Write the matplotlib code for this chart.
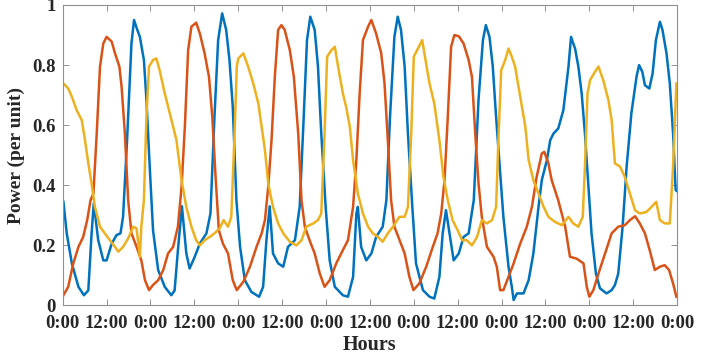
import matplotlib
matplotlib.use("Agg")
import matplotlib.pyplot as plt
import numpy as np

# --- Series: (hour, per-unit power) vertices ---
blue_h = [0.2, 1.1, 2.5, 4.3, 5.8, 7.0, 7.9, 8.5, 9.7, 11.1, 12.0, 13.4, 14.7, 15.8, 16.5, 17.6, 18.8, 19.5,
          20.4, 21.1, 22.2, 22.9, 23.8, 24.7, 26.1, 27.9, 29.7, 30.6, 31.5, 32.6, 33.8, 34.7, 36.1, 37.5,
          39.3, 40.4, 41.5, 42.5, 43.6, 44.7, 45.6, 46.5, 47.5, 48.5, 49.8, 51.6, 53.7, 54.8, 55.7, 56.6,
          57.5, 58.9, 60.3, 61.6, 63.5, 64.8, 65.7, 66.8, 67.7, 68.9, 69.8, 70.7, 71.9, 73.0, 74.4, 76.6,
          78.0, 79.4, 80.3, 80.7, 81.6, 83.0, 84.4, 85.7, 87.5, 88.5, 89.5, 90.7, 91.6, 92.5, 93.5, 94.4,
          95.6, 96.6, 98.5, 100.3, 101.6, 103.0, 103.9, 104.8, 106.9, 108.3, 109.6, 111.0, 112.4, 113.7,
          114.9, 115.7, 116.7, 117.6, 118.5, 119.5, 120.5, 121.9, 122.8, 123.3, 124.2, 126.0, 127.4, 128.7,
          130.1, 131.0, 132.4, 133.3, 134.2, 135.5, 136.9, 138.3, 139.0, 139.6, 140.1, 141.0, 141.9, 142.8,
          143.7, 144.6, 145.8, 146.9, 148.7, 150.1, 151.0, 151.9, 153.1, 154.2, 155.5, 156.9, 157.6, 158.5,
          159.2, 160.4, 161.3, 162.2, 163.3, 164.0, 165.1, 166.0, 166.9, 167.6, 168.0]
blue_v = [0.345, 0.24, 0.14, 0.062, 0.034, 0.05, 0.24, 0.34, 0.218, 0.15, 0.15, 0.206, 0.234, 0.24, 0.295,
          0.55, 0.872, 0.95, 0.917, 0.894, 0.817, 0.684, 0.46, 0.25, 0.118, 0.062, 0.034, 0.05, 0.184, 0.33,
          0.173, 0.123, 0.162, 0.206, 0.24, 0.306, 0.628, 0.883, 0.972, 0.917, 0.817, 0.661, 0.35, 0.195,
          0.084, 0.045, 0.029, 0.062, 0.217, 0.33, 0.173, 0.14, 0.129, 0.195, 0.217, 0.328, 0.572, 0.883,
          0.961, 0.917, 0.795, 0.572, 0.328, 0.15, 0.062, 0.034, 0.029, 0.095, 0.306, 0.328, 0.195, 0.15,
          0.173, 0.228, 0.262, 0.35, 0.628, 0.894, 0.961, 0.917, 0.795, 0.572, 0.328, 0.14, 0.051, 0.029,
          0.023, 0.095, 0.24, 0.317, 0.15, 0.173, 0.228, 0.24, 0.35, 0.684, 0.883, 0.933, 0.894, 0.795,
          0.628, 0.462, 0.295, 0.129, 0.062, 0.018, 0.04, 0.04, 0.084, 0.173, 0.328, 0.417, 0.484, 0.55,
          0.572, 0.589, 0.65, 0.795, 0.894, 0.872, 0.855, 0.795, 0.706, 0.572, 0.406, 0.24, 0.106, 0.057,
          0.04, 0.051, 0.068, 0.106, 0.262, 0.462, 0.64, 0.761, 0.8, 0.777, 0.733, 0.722, 0.772, 0.883,
          0.944, 0.917, 0.839, 0.739, 0.572, 0.384, 0.38]

orange_h = [0.2, 1.5, 2.9, 4.3, 5.6, 6.7, 7.6, 8.4, 9.3, 10.2, 11.1, 12.0, 13.4, 14.3, 15.5, 16.1, 17.0, 17.9,
            18.8, 20.2, 21.5, 22.5, 23.6, 24.7, 26.1, 27.5, 28.8, 30.2, 31.5, 32.5, 33.4, 34.3, 35.2, 36.5,
            37.5, 38.8, 40.0, 40.9, 41.8, 42.7, 43.8, 45.2, 46.5, 47.6, 49.4, 51.2, 53.0, 54.4, 55.3, 56.2,
            57.1, 58.0, 58.9, 59.8, 60.7, 62.1, 63.2, 64.4, 65.3, 66.2, 67.5, 68.9, 70.3, 71.6, 73.0, 74.8,
            76.6, 78.0, 79.4, 80.3, 81.2, 82.1, 83.5, 84.4, 85.7, 87.1, 88.0, 88.9, 89.8, 90.7, 92.1, 93.5,
            94.8, 95.9, 97.5, 99.4, 101.2, 102.5, 103.5, 104.4, 105.3, 106.2, 107.1, 108.3, 109.6, 111.0,
            111.9, 112.8, 113.7, 114.6, 116.0, 117.8, 118.7, 119.6, 120.5, 121.9, 123.3, 125.1, 126.9,
            128.3, 129.6, 131.0, 131.7, 132.8, 133.7, 135.5, 137.4, 138.7, 140.5, 142.4, 143.3, 144.0,
            145.1, 146.5, 148.3, 150.1, 151.9, 153.7, 155.1, 156.5, 157.8, 159.2, 160.5, 161.9, 163.3,
            164.6, 165.8, 166.9, 167.8]
orange_v = [0.034, 0.062, 0.14, 0.195, 0.228, 0.284, 0.35, 0.373, 0.572, 0.795, 0.872, 0.894, 0.878, 0.839,
            0.795, 0.728, 0.572, 0.35, 0.24, 0.195, 0.15, 0.084, 0.051, 0.068, 0.084, 0.118, 0.173, 0.195,
            0.262, 0.395, 0.595, 0.85, 0.928, 0.941, 0.905, 0.839, 0.761, 0.628, 0.428, 0.25, 0.206, 0.173,
            0.084, 0.051, 0.079, 0.129, 0.195, 0.24, 0.284, 0.395, 0.55, 0.761, 0.917, 0.933, 0.917, 0.85,
            0.761, 0.572, 0.35, 0.262, 0.217, 0.173, 0.106, 0.062, 0.084, 0.14, 0.184, 0.217, 0.328, 0.484,
            0.706, 0.883, 0.928, 0.95, 0.905, 0.839, 0.739, 0.55, 0.35, 0.262, 0.217, 0.173, 0.095, 0.051,
            0.073, 0.129, 0.195, 0.24, 0.306, 0.417, 0.628, 0.861, 0.9, 0.896, 0.872, 0.817, 0.761, 0.572,
            0.406, 0.295, 0.195, 0.162, 0.129, 0.051, 0.051, 0.095, 0.14, 0.206, 0.262, 0.328, 0.428, 0.506,
            0.511, 0.473, 0.417, 0.35, 0.262, 0.162, 0.156, 0.14, 0.062, 0.029, 0.051, 0.106, 0.173, 0.24,
            0.262, 0.267, 0.284, 0.297, 0.273, 0.24, 0.184, 0.118, 0.129, 0.134, 0.118, 0.073, 0.029]

yellow_h = [0.2, 1.5, 2.5, 3.8, 5.2, 6.1, 7.0, 7.9, 8.8, 10.2, 11.5, 12.9, 14.3, 15.2, 16.5, 17.9, 19.3, 20.2,
            21.1, 21.5, 22.2, 22.9, 23.6, 24.7, 25.6, 26.5, 27.9, 29.3, 30.2, 31.1, 32.5, 33.8, 35.2, 36.5,
            37.5, 38.8, 40.2, 41.5, 42.9, 44.0, 45.2, 46.1, 47.0, 47.6, 48.0, 49.4, 50.7, 52.1, 53.5, 54.4,
            55.3, 56.2, 57.5, 58.9, 60.3, 62.1, 63.9, 65.3, 66.6, 68.5, 69.8, 70.7, 71.6, 72.3, 73.5, 74.4,
            75.3, 76.6, 77.5, 78.5, 79.4, 80.7, 82.1, 83.5, 84.8, 86.2, 87.5, 88.9, 90.3, 92.1, 93.5, 94.4,
            95.3, 96.0, 97.4, 98.3, 99.2, 100.3, 101.6, 103.0, 104.1, 105.3, 106.6, 108.0, 109.2, 110.5,
            111.9, 113.3, 114.6, 116.0, 117.4, 118.5, 119.2, 119.9, 121.0, 121.9, 122.8, 123.7, 125.1,
            126.5, 127.4, 128.7, 130.1, 131.5, 132.8, 134.6, 136.5, 138.3, 139.6, 141.0, 142.2, 142.8,
            143.5, 144.2, 145.5, 146.5, 147.8, 149.2, 150.1, 151.0, 152.4, 153.7, 155.1, 156.5, 157.8,
            159.6, 161.0, 162.3, 163.3, 164.6, 166.0, 166.9, 167.8]
yellow_v = [0.739, 0.722, 0.695, 0.65, 0.617, 0.55, 0.473, 0.406, 0.328, 0.262, 0.24, 0.217, 0.195, 0.179,
            0.195, 0.223, 0.262, 0.256, 0.162, 0.262, 0.35, 0.628, 0.795, 0.817, 0.822, 0.783, 0.706, 0.639,
            0.595, 0.55, 0.417, 0.328, 0.262, 0.217, 0.2, 0.217, 0.228, 0.24, 0.256, 0.284, 0.262, 0.295,
            0.572, 0.795, 0.822, 0.839, 0.795, 0.739, 0.672, 0.595, 0.517, 0.406, 0.328, 0.273, 0.24, 0.212,
            0.2, 0.217, 0.262, 0.273, 0.284, 0.306, 0.572, 0.828, 0.85, 0.861, 0.795, 0.706, 0.661, 0.595,
            0.484, 0.373, 0.306, 0.262, 0.24, 0.228, 0.212, 0.24, 0.262, 0.295, 0.295, 0.328, 0.572, 0.828,
            0.861, 0.883, 0.817, 0.739, 0.672, 0.55, 0.428, 0.35, 0.284, 0.25, 0.217, 0.217, 0.2, 0.228,
            0.284, 0.273, 0.284, 0.328, 0.572, 0.783, 0.817, 0.855, 0.828, 0.795, 0.695, 0.595, 0.484, 0.417,
            0.373, 0.328, 0.295, 0.278, 0.267, 0.295, 0.273, 0.262, 0.295, 0.462, 0.706, 0.75, 0.777, 0.795,
            0.75, 0.684, 0.617, 0.473, 0.462, 0.428, 0.373, 0.317, 0.306, 0.311, 0.328, 0.345, 0.284, 0.273,
            0.273, 0.462, 0.739]

tick_hours = list(range(0, 169, 12))
tick_labels = ['0:00' if h % 24 == 0 else '12:00' for h in tick_hours]
ytick_vals = [0, 0.2, 0.4, 0.6, 0.8, 1]
ytick_labels = ['0', '0.2', '0.4', '0.6', '0.8', '1']

plt.rcParams['font.family'] = ['Liberation Serif', 'DejaVu Serif']
plt.rcParams['font.weight'] = 'bold'

fig = plt.figure(figsize=(7.15, 3.56), dpi=100)
ax = fig.add_axes([0.0877, 0.142, 0.8593, 0.844])

ax.plot(blue_h, blue_v, color='#0072BD', linewidth=1.8)
ax.plot(orange_h, orange_v, color='#D95319', linewidth=1.8)
ax.plot(yellow_h, yellow_v, color='#EDB120', linewidth=1.8)

ax.set_xlim(0, 168)
ax.set_ylim(0, 1)
ax.set_xticks(tick_hours)
ax.set_xticklabels(tick_labels)
ax.set_yticks(ytick_vals)
ax.set_yticklabels(ytick_labels)
ax.tick_params(direction='in', length=4, width=0.6, colors='#808080', labelcolor='#262626',
               labelsize=13.5, top=True, right=True)
ax.tick_params(axis='x', pad=7)
ax.tick_params(axis='y', pad=5)
for lab in ax.get_xticklabels() + ax.get_yticklabels():
    lab.set_fontweight('bold')
for s in ax.spines.values():
    s.set_color('#909090')
    s.set_linewidth(0.8)

ax.set_xlabel('Hours', fontsize=14.5, fontweight='bold', color='#262626', labelpad=2)
ax.set_ylabel('Power (per unit)', fontsize=14, fontweight='bold', color='#262626', labelpad=5)

fig.savefig('out.png', dpi=100)
